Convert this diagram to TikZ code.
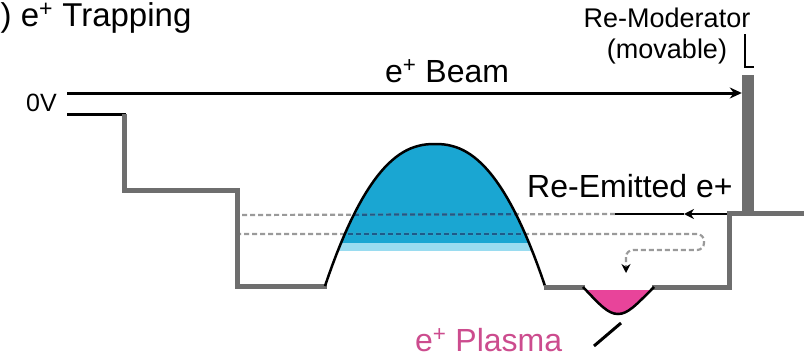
\documentclass[tikz,border=0pt]{standalone}
\usepackage{fontspec}
\setmainfont{Liberation Sans}
\usetikzlibrary{arrows.meta,positioning,calc}
\definecolor{potgray}{HTML}{6E6E6E}
\definecolor{humpblue}{HTML}{1AA6D2}
\definecolor{humplight}{HTML}{9ADCF0}
\definecolor{dashblue}{HTML}{1D5A8A}
\definecolor{dashgray}{HTML}{9A9A9A}
\definecolor{plasma}{HTML}{E8449A}
\definecolor{plasmatxt}{HTML}{CC4C8E}

\begin{document}
\begin{tikzpicture}[x=1pt,y=-1pt,
  pot/.style={potgray,line width=5pt},
  edge/.style={black,line width=3pt},
  thinedge/.style={black,line width=2.5pt},
  trajdash/.style={dashgray,line width=2.2pt,dash pattern=on 5pt off 3pt},
  lbl/.style={inner sep=0pt,anchor=base west}]
  \useasboundingbox (0,0) rectangle (804,359);

  % labels
  \node[lbl,font=\fontsize{33}{35}\selectfont] (title) at (0.5,26) {) e\textsuperscript{+} Trapping};
  \node[lbl,font=\fontsize{25}{27}\selectfont] (zeroV) at (26,111) {0V};
  \node[lbl,font=\fontsize{32}{34}\selectfont] (beamlbl) at (385,82) {e\textsuperscript{+} Beam};
  \node[inner sep=0pt,anchor=north,align=center,font=\fontsize{27}{31}\selectfont] (remodlbl) at (667,8) {Re-Moderator\\(movable)};
  \node[lbl,font=\fontsize{32}{34}\selectfont] (emitlbl) at (527,197) {Re-Emitted e+};
  \node[lbl,font=\fontsize{32}{34}\selectfont,text=plasmatxt] (plasmalbl) at (415,351) {e\textsuperscript{+} Plasma};

  % re-moderator
  \node[fill=potgray,inner sep=0pt,minimum width=12pt,minimum height=138pt] (remod) at (748,144) {};
  \coordinate (ldtop) at (745,34);
  \coordinate (ldfoot) at (754,67);
  \draw[thinedge] (ldtop) |- (ldfoot);

  % blue barrier
  \begin{scope}
    \clip (0,0) rectangle (804,250);
    \fill[humpblue] plot[domain=-1:1,samples=60] ({435+110*\x},{286-142*(1-(abs(\x)+0.0001)^2.3)}) -- cycle;
    \clip (0,243) rectangle (804,250);
    \fill[humplight] plot[domain=-1:1,samples=60] ({435+110*\x},{286-142*(1-(abs(\x)+0.0001)^2.3)}) -- cycle;
  \end{scope}

  % trajectories
  \coordinate (emit0) at (741,214);
  \coordinate (emitmid) at (684,214);
  \coordinate (emit1) at (615,214);
  \coordinate (pass0) at (236,215);
  \coordinate (back0) at (236,234);
  \coordinate (back1) at (704,234);
  \coordinate (back2) at (704,250);
  \coordinate (back3) at (626,250);
  \coordinate (back4) at (626,273);
  \draw[trajdash] (emit1) -- (pass0);
  \draw[trajdash,rounded corners=7pt,-{Stealth[black,length=9pt,width=9pt]}] (back0) -- (back1) -- (back2) -- (back3) -- (back4);
  \begin{scope}
    \clip plot[domain=-1:1,samples=60] ({435+110*\x},{286-142*(1-(abs(\x)+0.0001)^2.3)}) -- cycle;
    \draw[trajdash,dashblue] (emit1) -- (pass0);
    \draw[trajdash,dashblue] (back0) -- (back1);
  \end{scope}
  \draw[thinedge,-{Stealth[length=10pt,width=10pt]}] (emit0) -- (emitmid);
  \draw[thinedge] (emitmid) -- (emit1);

  % potential
  \draw[edge] (67,114) -- (126,114);
  \draw[pot] (124,114) -- (124,190) -- (237,190) -- (237,286) -- (327,286);
  \draw[thinedge] plot[domain=-1:1,samples=60] ({435+110*\x},{286-142*(1-(abs(\x)+0.0001)^2.3)});
  \draw[pot] (544,287) -- (585,287);
  \draw[pot] (652,287) -- (729,287) -- (729,213) -- (804,213);

  % plasma well
  \begin{scope}
    \clip (0,290) rectangle (804,359);
    \fill[plasma] (583,287) .. controls (600,305) and (608,314) .. (618,314) .. controls (628,314) and (636,305) .. (654,287) -- cycle;
  \end{scope}
  \draw[thinedge] (583,287) .. controls (600,305) and (608,314) .. (618,314) .. controls (628,314) and (636,305) .. (654,287);

  % beam
  \coordinate (beam0) at (67,93);
  \draw[edge,-{Stealth[length=12pt,width=11pt]}] (beam0) -- (beam0 -| remod.west);

  % plasma pointer
  \coordinate (plfoot) at (594,346);
  \coordinate (pltip) at (621,323);
  \draw[edge] (plfoot) -- (pltip);
\end{tikzpicture}
\end{document}
